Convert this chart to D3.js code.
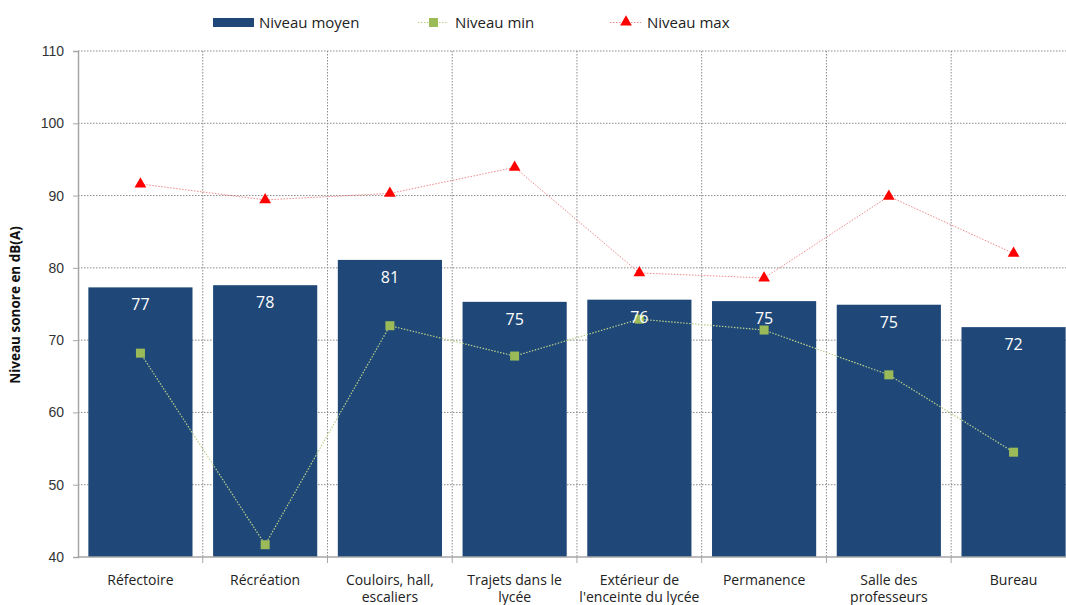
<!DOCTYPE html>
<html>
<head>
<meta charset="utf-8">
<script src="https://cdn.jsdelivr.net/npm/d3@7/dist/d3.min.js"></script>
<style>
  html, body { margin: 0; padding: 0; background: #fff; }
  svg { display: block; }
  text { font-family: "Open Sans", "DejaVu Sans", sans-serif; }
</style>
</head>
<body>
<svg id="chart" width="1066" height="605"></svg>
<script>
// Noise levels by location, dB(A)
const categories = [
  ["Réfectoire"],
  ["Récréation"],
  ["Couloirs, hall,", "escaliers"],
  ["Trajets dans le", "lycée"],
  ["Extérieur de", "l'enceinte du lycée"],
  ["Permanence"],
  ["Salle des", "professeurs"],
  ["Bureau"]
];
const meanLevels = [77.3, 77.6, 81.1, 75.3, 75.6, 75.4, 74.9, 71.8];
const meanLabels = ["77", "78", "81", "75", "76", "75", "75", "72"];
const minLevels  = [68.2, 41.7, 72.0, 67.8, 72.9, 71.4, 65.2, 54.5];
const maxLevels  = [91.6, 89.4, 90.3, 93.9, 79.3, 78.6, 89.9, 82.0];
const yTicks = [40, 50, 60, 70, 80, 90, 100, 110];
const legendLabels = ["Niveau moyen", "Niveau min", "Niveau max"];

const svg = d3.select("#chart");
const margin = { left: 78, top: 51, bottom: 557 };
const plotRight = 1076;

const idx = categories.map((d, i) => i);
const x = d3.scaleBand().domain(idx).range([margin.left, plotRight])
  .paddingInner(0.165).paddingOuter(0.083);
const y = d3.scaleLinear().domain([40, 110]).range([margin.bottom, margin.top]);
const step = x.step();
const bandStart = i => margin.left + i * step;
const cx = i => x(i) + x.bandwidth() / 2;

const barColor = "#1f4878";
const minColor = "#9bbb59";
const maxColor = "#ff0000";

// Horizontal grid
svg.append("g").selectAll("line").data(yTicks.filter(t => t > 40)).join("line")
  .attr("x1", margin.left).attr("x2", plotRight)
  .attr("y1", d => y(d)).attr("y2", d => y(d))
  .attr("stroke", "#8a8a8a").attr("stroke-width", 1)
  .attr("stroke-dasharray", "1.5,1.5");

// Vertical grid at category boundaries
svg.append("g").selectAll("line").data(idx.slice(1)).join("line")
  .attr("x1", d => bandStart(d)).attr("x2", d => bandStart(d))
  .attr("y1", margin.top).attr("y2", margin.bottom)
  .attr("stroke", "#8a8a8a").attr("stroke-width", 1)
  .attr("stroke-dasharray", "1.5,1.5");

// Bars
svg.append("g").selectAll("rect").data(meanLevels).join("rect")
  .attr("x", (d, i) => x(i)).attr("width", x.bandwidth())
  .attr("y", d => y(d)).attr("height", d => y(40) - y(d))
  .attr("fill", barColor);

// Y axis
const yAxis = svg.append("g").attr("transform", `translate(${margin.left},0)`)
  .call(d3.axisLeft(y).tickValues(yTicks).tickSize(5).tickPadding(9));
yAxis.select(".domain").attr("stroke", "#a6a6a6").attr("stroke-width", 1.5);
yAxis.selectAll(".tick line").attr("stroke", "#a6a6a6");
yAxis.selectAll(".tick text").attr("fill", "#333").style("font-size", "14px")
  .style("font-family", "'Liberation Sans', Arial, sans-serif");

// X axis line and ticks at boundaries
svg.append("line").attr("x1", margin.left).attr("x2", plotRight)
  .attr("y1", margin.bottom).attr("y2", margin.bottom)
  .attr("stroke", "#a6a6a6").attr("stroke-width", 1.5);
svg.append("g").selectAll("line").data(idx.slice(1)).join("line")
  .attr("x1", d => bandStart(d)).attr("x2", d => bandStart(d))
  .attr("y1", margin.bottom).attr("y2", margin.bottom + 6)
  .attr("stroke", "#a6a6a6");

// Category labels
const xl = svg.append("g").selectAll("text").data(categories).join("text")
  .attr("text-anchor", "middle").attr("fill", "#222")
  .style("font-size", "14px")
  .attr("x", (d, i) => cx(i)).attr("y", 585);
xl.selectAll("tspan").data(d => d).join("tspan")
  .attr("x", function () { return d3.select(this.parentNode).attr("x"); })
  .attr("dy", (d, j) => j === 0 ? 0 : 17)
  .text(d => d);

// Min and max lines
const line = d3.line().x((d, i) => cx(i)).y(d => y(d));
svg.append("path").datum(minLevels).attr("d", line)
  .attr("fill", "none").attr("stroke", "#b8d08a").attr("stroke-width", 1.2)
  .attr("stroke-dasharray", "1.5,1.5");
svg.append("path").datum(maxLevels).attr("d", line)
  .attr("fill", "none").attr("stroke", "#f08a8a").attr("stroke-width", 1)
  .attr("stroke-dasharray", "1.5,1.5");

// Markers
svg.append("g").selectAll("rect").data(minLevels).join("rect")
  .attr("x", (d, i) => cx(i) - 4.5).attr("y", d => y(d) - 4.5)
  .attr("width", 9).attr("height", 9).attr("fill", minColor);
const tri = d3.symbol().type(d3.symbolTriangle).size(60);
svg.append("g").selectAll("path").data(maxLevels).join("path")
  .attr("d", tri)
  .attr("transform", (d, i) => `translate(${cx(i)},${y(d)})`)
  .attr("fill", maxColor);

// Value labels
svg.append("g").selectAll("text").data(meanLevels).join("text")
  .attr("x", (d, i) => cx(i)).attr("y", d => y(d) + 23)
  .attr("text-anchor", "middle").attr("fill", "#fff")
  .style("font-size", "16px")
  .text((d, i) => meanLabels[i]);

// Y axis title
svg.append("text")
  .attr("transform", "translate(20,305) rotate(-90)")
  .attr("text-anchor", "middle").attr("fill", "#111")
  .style("font-size", "13.5px").style("font-weight", "bold")
  .text("Niveau sonore en dB(A)");

// Legend
const lg = svg.append("g");
lg.append("rect").attr("x", 213).attr("y", 18).attr("width", 41).attr("height", 9).attr("fill", barColor);
lg.append("text").attr("x", 259).attr("y", 28).style("font-size", "15px").attr("fill", "#222").text(legendLabels[0]);

lg.append("line").attr("x1", 418).attr("x2", 448).attr("y1", 22.5).attr("y2", 22.5)
  .attr("stroke", "#b8d08a").attr("stroke-dasharray", "1.5,1.5");
lg.append("rect").attr("x", 429).attr("y", 18).attr("width", 9).attr("height", 9).attr("fill", minColor);
lg.append("text").attr("x", 455).attr("y", 28).style("font-size", "15px").attr("fill", "#222").text(legendLabels[1]);

lg.append("line").attr("x1", 610).attr("x2", 641).attr("y1", 22.5).attr("y2", 22.5)
  .attr("stroke", "#f08a8a").attr("stroke-dasharray", "1.5,1.5");
lg.append("path").attr("d", tri).attr("transform", "translate(626,22)").attr("fill", maxColor);
lg.append("text").attr("x", 647).attr("y", 28).style("font-size", "15px").attr("fill", "#222").text(legendLabels[2]);
</script>
</body>
</html>
